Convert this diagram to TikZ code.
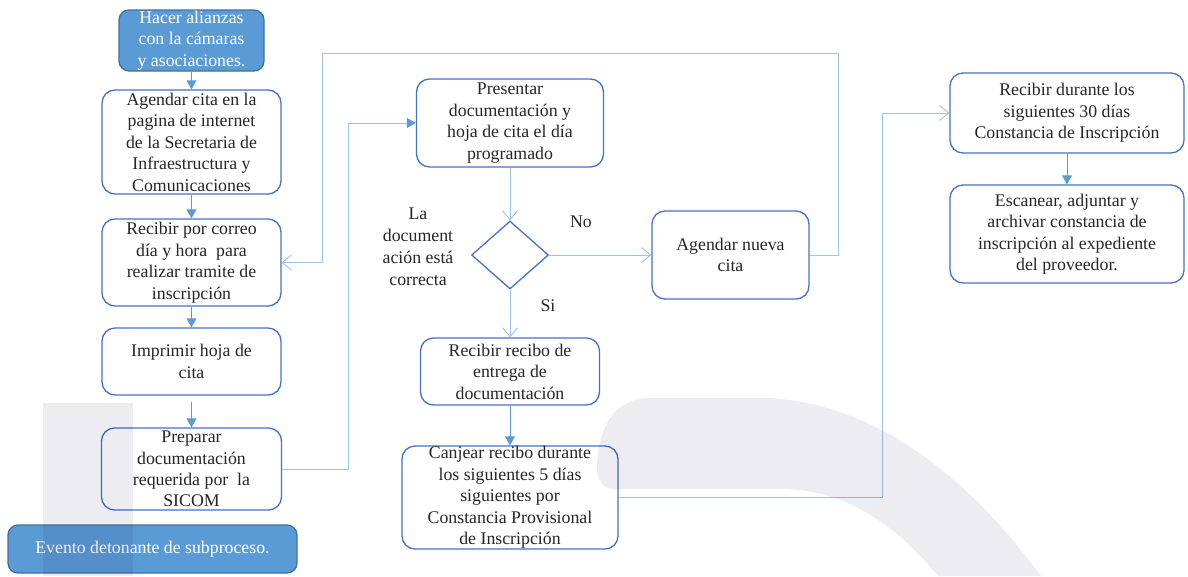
\documentclass[tikz,border=0pt]{standalone}
\usepackage{fontspec}
\setmainfont{Liberation Serif}
\usetikzlibrary{shapes.geometric,arrows.meta}

\definecolor{boxline}{HTML}{4472C4}
\definecolor{linklight}{HTML}{9DC3E6}
\definecolor{linkmid}{HTML}{5B9BD5}
\definecolor{startfill}{HTML}{5B9BD5}
\definecolor{startline}{HTML}{41719C}
\definecolor{txt}{HTML}{262626}
\definecolor{wmgray}{RGB}{236,236,241}

\tikzset{
  stepbox/.style={draw=boxline, line width=1.3pt, rounded corners=13pt,
    fill=white, align=center, inner sep=0pt, text=txt,
    font=\fontsize{17.8}{21.5}\selectfont},
  startbox/.style={stepbox, fill=startfill, draw=startline, text=white,
    rounded corners=10pt},
  decision/.style={diamond, draw=boxline, line width=1.3pt,
    minimum width=77pt, minimum height=68pt, inner sep=0pt},
  lbl/.style={align=center, inner sep=0pt, text=txt,
    font=\fontsize{17.8}{22}\selectfont},
  shortarrow/.style={draw=linkmid, line width=1pt,
    -{Triangle[length=9pt,width=10pt]}},
  linkfilled/.style={draw=linklight, line width=1pt,
    -{Triangle[length=9pt,width=10pt,color=linkmid]}},
  linkopen/.style={draw=linklight, line width=1pt,
    -{Straight Barb[length=9pt,width=15pt,line width=0.9pt]}},
}

\begin{document}
\begin{tikzpicture}[x=1pt,y=-1pt]
\useasboundingbox (0,0) rectangle (1188,576);

% left column
\node[startbox, minimum width=145pt, minimum height=61pt] (alianzas) at (191.5,40.5)
  {Hacer alianzas\\con la cámaras\\y asociaciones.};
\node[stepbox, minimum width=179pt, minimum height=104pt] (agendar) at (191.5,142)
  {Agendar cita en la\\pagina de internet\\de la Secretaria de\\Infraestructura y\\Comunicaciones};
\node[stepbox, minimum width=179pt, minimum height=87pt] (correo) at (191.5,262.5)
  {Recibir por correo\\día y hora\ \ para\\realizar tramite de\\inscripción};
\node[stepbox, minimum width=179pt, minimum height=67pt] (imprimir) at (191.5,361.5)
  {Imprimir hoja de\\cita};
\node[stepbox, minimum width=180pt, minimum height=82pt] (preparar) at (191.5,469)
  {Preparar\\documentación\\requerida por\ \ la\\SICOM};
\node[startbox, minimum width=289pt, minimum height=48pt] (evento) at (152.5,549)
  {Evento detonante de subproceso.};

% middle column
\node[stepbox, minimum width=187pt, minimum height=88pt] (presentar) at (510,123)
  {Presentar\\documentación y\\hoja de cita el día\\programado};
\node[decision] (correcta) at (510,255) {};
\node[lbl] (pregunta) at (418,247) {La\\document\\ación está\\correcta};
\node[lbl] (no) at (581,222) {No};
\node[lbl] (si) at (548,306) {Si};
\node[stepbox, minimum width=157pt, minimum height=88pt] (nueva) at (730.5,255)
  {Agendar nueva\\cita};
\node[stepbox, minimum width=179pt, minimum height=67pt] (recibo) at (510,371.5)
  {Recibir recibo de\\entrega de\\documentación};
\node[stepbox, minimum width=216pt, minimum height=103pt] (canjear) at (510,497.5)
  {Canjear recibo durante\\los siguientes 5 días\\siguientes por\\Constancia Provisional\\de Inscripción};

% right column
\node[stepbox, minimum width=234pt, minimum height=80pt] (constancia) at (1067,113)
  {Recibir durante los\\siguientes 30 días\\Constancia de Inscripción};
\node[stepbox, minimum width=234pt, minimum height=98pt] (archivar) at (1067,234)
  {Escanear, adjuntar y\\archivar constancia de\\inscripción al expediente\\del proveedor.};

% bends of the routed connectors
\coordinate (bendEG) at (348,123);
\coordinate (loopR) at (838,53);
\coordinate (loopL) at (322,53);
\coordinate (bendJK) at (882,113);

% connectors
\draw[shortarrow] (alianzas) -- (agendar);
\draw[shortarrow] (agendar) -- (correo);
\draw[shortarrow] (correo) -- (imprimir);
\draw[shortarrow, shorten <=6pt] (imprimir) -- (preparar);
\draw[linkfilled] (preparar.east) -| (bendEG) -- (presentar.west);
\draw[linkopen] (presentar) -- (correcta);
\draw[linkopen] (correcta) -- (nueva);
\draw[linkopen] (nueva.east) -| (loopR) -- (loopL) |- (correo.east);
\draw[linkopen] (correcta) -- (recibo);
\draw[shortarrow] (recibo) -- (canjear);
\draw[linkopen] (canjear.east) -| (bendJK) -- (constancia.west);
\draw[shortarrow] (constancia) -- (archivar);

% faint background watermark
\begin{scope}[blend mode=multiply]
  \fill[wmgray] (43,403) rectangle (133,576);
  \fill[wmgray] (597,468) .. controls (598,430) and (612,398) .. (650,398)
    -- (770,398) .. controls (880,405) and (970,480) .. (1041,576)
    -- (938,576) .. controls (900,530) and (850,489) .. (780,489)
    -- (615,489) .. controls (603,489) and (597,480) .. (597,468) -- cycle;
\end{scope}
\end{tikzpicture}
\end{document}
